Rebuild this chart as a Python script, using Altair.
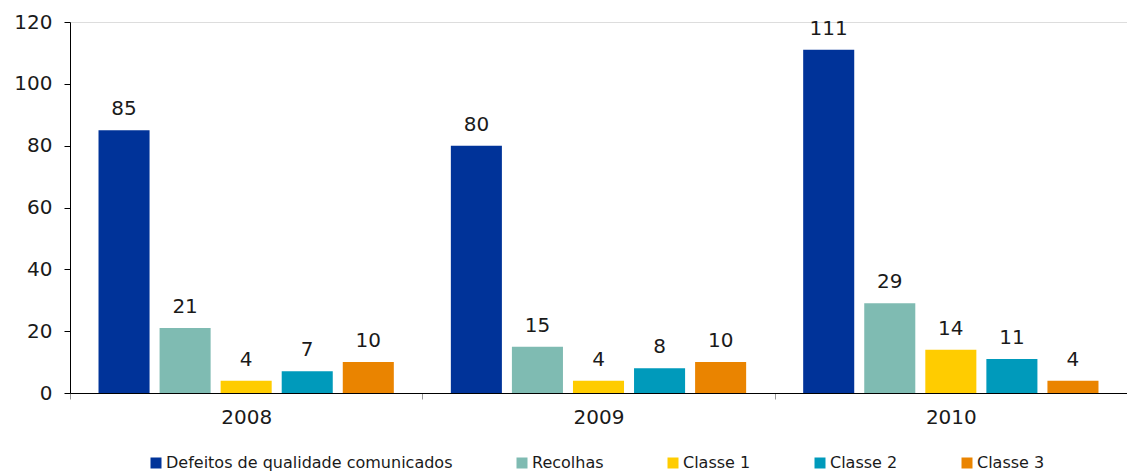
import altair as alt
import pandas as pd

years = ["2008", "2009", "2010"]
series = ["Defeitos de qualidade comunicados", "Recolhas", "Classe 1", "Classe 2", "Classe 3"]
defeitos = [85, 80, 111]
recolhas = [21, 15, 29]
classe1 = [4, 4, 14]
classe2 = [7, 8, 11]
classe3 = [10, 10, 4]
colors = ["#003399", "#7FBBB2", "#FFCC00", "#009ABB", "#EA8400"]

rows = []
for s, vals in zip(series, [defeitos, recolhas, classe1, classe2, classe3]):
    for y, v in zip(years, vals):
        rows.append({"Ano": y, "Serie": s, "Valor": v})
df = pd.DataFrame(rows)

FONT = "DejaVu Sans"

x = alt.X("Ano:N", sort=years, title=None,
          scale=alt.Scale(paddingInner=0, paddingOuter=0),
          axis=alt.Axis(labelAngle=0, labelFont=FONT, labelFontSize=20, labelColor="#1a1a1a",
                        domainColor="#000000", domainWidth=1.2, tickColor="#999999",
                        tickSize=6, tickBand="extent", labelPadding=8))
xo = alt.XOffset("Serie:N", sort=series, scale=alt.Scale(paddingInner=0.164, paddingOuter=0.467))
y = alt.Y("Valor:Q", title=None,
          scale=alt.Scale(domain=[0, 120], nice=False),
          axis=alt.Axis(values=[0, 20, 40, 60, 80, 100, 120], grid=False, labelFont=FONT,
                        labelFontSize=20, labelColor="#1a1a1a", domainColor="#000000",
                        tickColor="#000000", tickSize=6, labelPadding=12))

bars = alt.Chart(df).mark_bar().encode(
    x=x, xOffset=xo, y=y,
    color=alt.Color("Serie:N", sort=series,
                    scale=alt.Scale(domain=series, range=colors),
                    legend=alt.Legend(title=None, orient="none", direction="horizontal",
                                      legendX=78, legendY=433, symbolType="square",
                                      symbolSize=121, symbolStrokeWidth=0, labelFont=FONT,
                                      labelFontSize=16, labelColor="#1a1a1a", labelOffset=2,
                                      labelLimit=600, columnPadding=61)),
)

labels = alt.Chart(df).mark_text(font=FONT, fontSize=20, color="#1a1a1a", baseline="alphabetic", dy=-15).encode(
    x=alt.X("Ano:N", sort=years), xOffset=alt.XOffset("Serie:N", sort=series), y="Valor:Q",
    text="Valor:Q",
)

chart = (bars + labels).properties(
    width=1057, height=371,
    autosize=alt.AutoSizeParams(type="none"),
    padding={"left": 70, "top": 22, "right": 0, "bottom": 81},
).configure_view(stroke=None).configure(background="white")

chart.save("out.html", embed_options={"renderer": "svg", "actions": False})
